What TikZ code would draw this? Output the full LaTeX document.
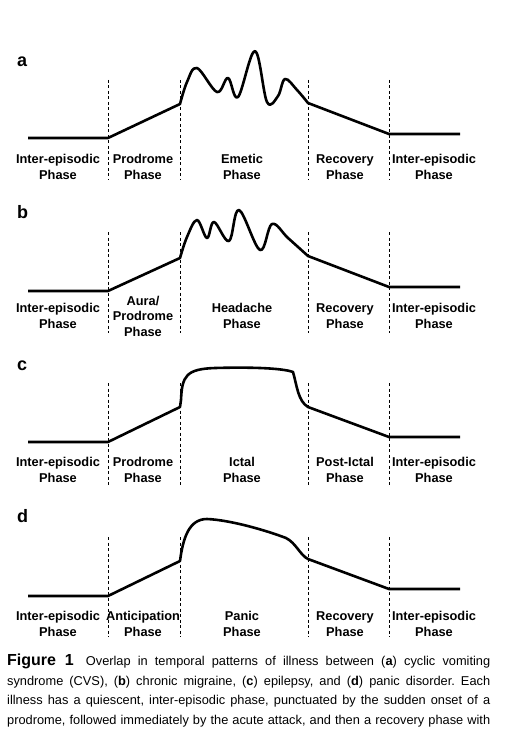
\documentclass[tikz,border=0pt]{standalone}
\usepackage{fontspec}
\setmainfont{Liberation Sans}
\begin{document}
\begin{tikzpicture}[x=1pt,y=-1pt,
  curve/.style={line width=2.6pt, line join=round},
  divider/.style={line width=0.9pt, dash pattern=on 3pt off 2.5pt},
  phase/.style={font=\fontsize{12.8}{15.5}\selectfont\bfseries, align=center, inner sep=0pt},
  panel/.style={font=\fontsize{18}{18}\selectfont\bfseries, inner sep=0pt, anchor=base west}]
\useasboundingbox[fill=white] (0,0) rectangle (512,738);

% ---------- panel a ----------
\node[panel] (la) at (17,67) {a};
\foreach \x in {108,180,308,389} \draw[divider] (\x,80) -- (\x,180);
\coordinate (a0) at (28,138); \coordinate (a1) at (108,138);
\coordinate (a2) at (180,104); \coordinate (a3) at (308,103);
\coordinate (a4) at (389,134); \coordinate (a5) at (460,134);
\draw[curve] (a0) -- (a1) -- (a2) -- plot[smooth, tension=0.6] coordinates
  {(180,104) (187,82) (197,68) (217,92) (228,78) (238,97) (255,51) (267,102) (278,96) (285,79) (297,90) (308,103)}
  -- (a4) -- (a5);
\node[phase] (a-ie1) at (58,167) {Inter-episodic\\Phase};
\node[phase] (a-pro) at (143,167) {Prodrome\\Phase};
\node[phase] (a-eme) at (242,167) {Emetic\\Phase};
\node[phase] (a-rec) at (345,167) {Recovery\\Phase};
\node[phase] (a-ie2) at (434,167) {Inter-episodic\\Phase};

% ---------- panel b ----------
\node[panel] (lb) at (17,218) {b};
\foreach \x in {108,180,308,389} \draw[divider] (\x,232) -- (\x,333);
\coordinate (b0) at (28,291); \coordinate (b1) at (108,291);
\coordinate (b2) at (180,258); \coordinate (b3) at (308,256);
\coordinate (b4) at (389,287); \coordinate (b5) at (460,287);
\draw[curve] (b0) -- (b1) -- (b2) -- plot[smooth, tension=0.6] coordinates
  {(180,258) (187,237) (197,220) (207,238) (214,222) (229,241) (239,210) (260,250) (272,224) (288,238) (308,256)}
  -- (b4) -- (b5);
\node[phase] (b-ie1) at (58,316) {Inter-episodic\\Phase};
\node[phase] (b-pro) at (143,316) {Aura/\\Prodrome\\Phase};
\node[phase] (b-hea) at (242,316) {Headache\\Phase};
\node[phase] (b-rec) at (345,316) {Recovery\\Phase};
\node[phase] (b-ie2) at (434,316) {Inter-episodic\\Phase};

% ---------- panel c ----------
\node[panel] (lc) at (17,370) {c};
\foreach \x in {108,180,308,389} \draw[divider] (\x,383) -- (\x,485);
\coordinate (c0) at (28,442); \coordinate (c1) at (108,442);
\coordinate (c2) at (180,407); \coordinate (c3) at (308,407);
\coordinate (c4) at (389,437); \coordinate (c5) at (460,437);
\draw[curve] (c0) -- (c1) -- (c2) -- (181,400)
  .. controls (182,376) and (186,369) .. (215,368)
  .. controls (250,367) and (282,368) .. (293,372)
  .. controls (297,386) and (298,401) .. (c3)
  -- (c4) -- (c5);
\node[phase] (c-ie1) at (58,470) {Inter-episodic\\Phase};
\node[phase] (c-pro) at (143,470) {Prodrome\\Phase};
\node[phase] (c-ict) at (242,470) {Ictal\\Phase};
\node[phase] (c-pos) at (345,470) {Post-Ictal\\Phase};
\node[phase] (c-ie2) at (434,470) {Inter-episodic\\Phase};

% ---------- panel d ----------
\node[panel] (ld) at (17,522) {d};
\foreach \x in {108,180,308,389} \draw[divider] (\x,537) -- (\x,637);
\coordinate (d0) at (28,596); \coordinate (d1) at (108,596);
\coordinate (d2) at (180,561); \coordinate (d3) at (308,559);
\coordinate (d4) at (389,589); \coordinate (d5) at (460,589);
\draw[curve] (d0) -- (d1) -- (d2)
  .. controls (183,538) and (189,519) .. (207,519)
  .. controls (230,520) and (265,530) .. (286,538)
  .. controls (296,543) and (300,555) .. (d3)
  -- (d4) -- (d5);
\node[phase] (d-ie1) at (58,624) {Inter-episodic\\Phase};
\node[phase] (d-ant) at (143,624) {Anticipation\\Phase};
\node[phase] (d-pan) at (242,624) {Panic\\Phase};
\node[phase] (d-rec) at (345,624) {Recovery\\Phase};
\node[phase] (d-ie2) at (434,624) {Inter-episodic\\Phase};

% ---------- caption ----------
\node[anchor=north west, inner sep=0pt, text width=483pt, align=justify,
      font=\fontsize{12.8}{19.5}\selectfont] (cap) at (7,654)
 {\frenchspacing\tolerance=10000\hbadness=10000\parfillskip=0pt\parindent=0pt
  {\fontsize{16}{19.5}\selectfont\bfseries Figure 1}\hspace{12pt}Overlap in temporal patterns of illness between (\textbf{a}) cyclic vomiting\linebreak
  syndrome (CVS), (\textbf{b}) chronic migraine, (\textbf{c}) epilepsy, and (\textbf{d}) panic disorder. Each\linebreak
  illness has a quiescent, inter-episodic phase, punctuated by the sudden onset of a\linebreak
  prodrome, followed immediately by the acute attack, and then a recovery phase with\par};
\end{tikzpicture}
\end{document}
